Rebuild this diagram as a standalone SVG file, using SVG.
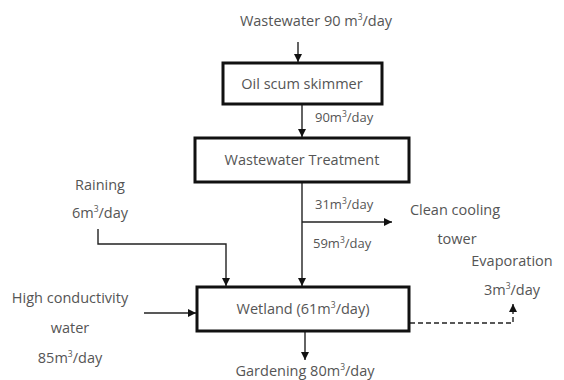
<svg xmlns="http://www.w3.org/2000/svg" width="564" height="380" viewBox="0 0 564 380">
<defs>
<style>
.t{font-family:"Open Sans","Liberation Sans",sans-serif;font-size:14.5px;fill:#555;}
.m{font-size:13px;}
.s{font-size:8.5px;}
.box{fill:#fff;stroke:#111;stroke-width:3;}
.ln{fill:none;stroke:#222;stroke-width:1.4;}
.dash{fill:none;stroke:#222;stroke-width:1.4;stroke-dasharray:5,3;}
</style>
<marker id="ah" viewBox="0 0 10 10" refX="10" refY="5" markerWidth="8" markerHeight="8" markerUnits="userSpaceOnUse" orient="auto">
<path d="M0,0 L10,5 L0,10 z" fill="#111"/>
</marker>
</defs>
<g id="connectors">
<line class="ln" x1="298" y1="42" x2="298" y2="62" marker-end="url(#ah)"/>
<line class="ln" x1="302" y1="105" x2="302" y2="137" marker-end="url(#ah)"/>
<line class="ln" x1="302" y1="183" x2="302" y2="286" marker-end="url(#ah)"/>
<line class="ln" x1="302" y1="222" x2="392" y2="222" marker-end="url(#ah)"/>
<polyline class="ln" points="98,229 98,244 226,244 226,286" marker-end="url(#ah)"/>
<line class="ln" x1="144" y1="313" x2="196" y2="313" marker-end="url(#ah)"/>
<line class="ln" x1="305" y1="332" x2="305" y2="360" marker-end="url(#ah)"/>
<polyline class="dash" points="410,323 513,323 513,304" marker-end="url(#ah)"/>
</g>
<g id="n-wastewater-in"><text class="t" x="316" y="26" text-anchor="middle">Wastewater 90 m<tspan class="s" dy="-6">3</tspan><tspan dy="6">/day</tspan></text></g>
<g id="n-skimmer"><rect class="box" x="223" y="63" width="159" height="41"/><text class="t" x="302" y="89" text-anchor="middle">Oil scum skimmer</text></g>
<g id="l-90"><text class="t m" x="315" y="122">90m<tspan class="s" dy="-5">3</tspan><tspan dy="5">/day</tspan></text></g>
<g id="n-treatment"><rect class="box" x="195" y="138" width="214" height="44"/><text class="t" x="302" y="165" text-anchor="middle">Wastewater Treatment</text></g>
<g id="l-31"><text class="t m" x="315" y="209">31m<tspan class="s" dy="-5">3</tspan><tspan dy="5">/day</tspan></text></g>
<g id="l-59"><text class="t m" x="313" y="248">59m<tspan class="s" dy="-5">3</tspan><tspan dy="5">/day</tspan></text></g>
<g id="n-cooling"><text class="t" x="455" y="215" text-anchor="middle">Clean cooling</text><text class="t" x="457" y="244" text-anchor="middle">tower</text></g>
<g id="n-raining"><text class="t" x="100" y="190" text-anchor="middle">Raining</text><text class="t" x="100" y="218" text-anchor="middle">6m<tspan class="s" dy="-6">3</tspan><tspan dy="6">/day</tspan></text></g>
<g id="n-evaporation"><text class="t" x="512" y="266" text-anchor="middle">Evaporation</text><text class="t" x="512" y="295" text-anchor="middle">3m<tspan class="s" dy="-6">3</tspan><tspan dy="6">/day</tspan></text></g>
<g id="n-highcond"><text class="t" x="70" y="303" text-anchor="middle">High conductivity</text><text class="t" x="70" y="333" text-anchor="middle">water</text><text class="t" x="70" y="363" text-anchor="middle">85m<tspan class="s" dy="-6">3</tspan><tspan dy="6">/day</tspan></text></g>
<g id="n-wetland"><rect class="box" x="197" y="287" width="212" height="44"/><text class="t" x="303" y="314" text-anchor="middle">Wetland (61m<tspan class="s" dy="-6">3</tspan><tspan dy="6">/day)</tspan></text></g>
<g id="n-gardening"><text class="t" x="305" y="376" text-anchor="middle">Gardening 80m<tspan class="s" dy="-6">3</tspan><tspan dy="6">/day</tspan></text></g>
</svg>
